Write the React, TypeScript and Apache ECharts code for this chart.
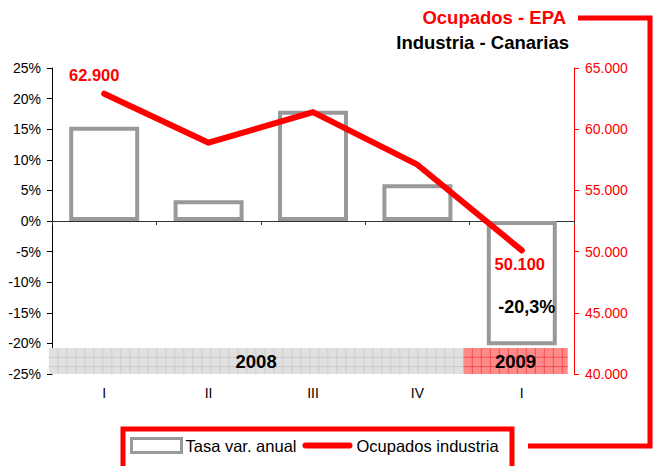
import React, { useEffect, useRef } from "react";
import * as echarts from "echarts";

const categories = ["I", "II", "III", "IV", "I"];
const tasaVarAnual = [15.4, 3.4, 18.0, 6.0, -20.3];
const ocupadosIndustria = [62900, 58900, 61400, 57100, 50100];
const yearBands = [
  { year: "2008", from: 0, to: 3 },
  { year: "2009", from: 4, to: 4 },
];
const bandBottom = -25;
const bandTop = -20.75;

const fmtThousands = (v: number) =>
  String(Math.round(v)).replace(/\B(?=(\d{3})+(?!\d))/g, ".");

const FONT = "Liberation Sans, Arial, sans-serif";

const LINE_ICON =
  "path://M0,0L0.01,0L0,0.01Z M50,14L49.99,14L50,13.99Z M3,4L47,4A3,3,0,0,1,47,10L3,10A3,3,0,0,1,3,4Z";

export default function App() {
  const ref = useRef<HTMLDivElement>(null);
  useEffect(() => {
    if (!ref.current) return;
    const chart = echarts.init(ref.current, null, { renderer: "svg" });
    const bandStyles = [
      { fill: "#e0e0e0", line: "#c6c6c6" },
      { fill: "#ff8a8a", line: "#f04040" },
    ];
    const lineLabel = {
      show: true,
      fontSize: 16.5,
      fontWeight: "bold",
      color: "#ff0000",
      fontFamily: FONT,
    };
    chart.setOption({
      animation: false,
      textStyle: { fontFamily: FONT },
      grid: { left: 52, right: 80, top: 68, bottom: 92, containLabel: false },
      legend: {
        left: 130,
        top: 437,
        padding: 0,
        itemWidth: 50,
        itemHeight: 14,
        itemGap: 6,
        textStyle: { fontSize: 16.5, color: "#000", fontFamily: FONT, padding: [0, 0, 0, -1] },
        data: [
          {
            name: "Tasa var. anual",
            icon: "rect",
            itemStyle: { color: "#fff", borderColor: "#999", borderWidth: 3 },
          },
          {
            name: "Ocupados industria",
            icon: LINE_ICON,
            itemStyle: { color: "#ff0000" },
          },
        ],
      },
      xAxis: [
        {
          type: "category",
          data: categories,
          position: "bottom",
          axisLine: { show: false, onZero: false },
          axisTick: { show: false },
          axisLabel: { margin: 12, fontSize: 14, color: "#000", fontFamily: FONT },
        },
        {
          type: "category",
          data: categories,
          position: "bottom",
          axisLine: {
            show: true,
            onZero: true,
            onZeroAxisIndex: 0,
            lineStyle: { color: "#333", width: 1 },
          },
          axisTick: { show: true, length: 4, lineStyle: { color: "#333" } },
          axisLabel: { show: false },
        },
      ],
      yAxis: [
        {
          type: "value",
          min: -25,
          max: 25,
          interval: 5,
          position: "left",
          axisLine: { show: true, lineStyle: { color: "#000" } },
          axisTick: { show: true, length: 5, lineStyle: { color: "#000" } },
          splitLine: { show: false },
          axisLabel: {
            margin: 11,
            fontSize: 14,
            color: "#000",
            fontFamily: FONT,
            formatter: (v: number) => `${v}%`,
          },
        },
        {
          type: "value",
          min: 40000,
          max: 65000,
          interval: 5000,
          position: "right",
          axisLine: { show: true, lineStyle: { color: "#ff0000" } },
          axisTick: { show: true, length: 5, lineStyle: { color: "#ff0000" } },
          splitLine: { show: false },
          axisLabel: {
            margin: 11,
            fontSize: 14,
            color: "#ff0000",
            fontFamily: FONT,
            formatter: (v: number) => fmtThousands(v),
          },
        },
      ],
      series: [
        {
          name: "Tasa var. anual",
          type: "bar",
          xAxisIndex: 0,
          yAxisIndex: 0,
          barWidth: 70,
          z: 2,
          itemStyle: { color: "#fff", borderColor: "#999", borderWidth: 4 },
          data: tasaVarAnual.map((v, i) =>
            i === tasaVarAnual.length - 1
              ? {
                  value: v,
                  label: {
                    show: true,
                    position: "inside",
                    offset: [5, 24],
                    fontSize: 18,
                    fontWeight: "bold",
                    color: "#000",
                    fontFamily: FONT,
                    formatter: () => `${String(v).replace(".", ",")}%`,
                  },
                }
              : v
          ),
        },
        {
          name: "band",
          type: "custom",
          xAxisIndex: 0,
          yAxisIndex: 0,
          z: 3,
          silent: true,
          data: yearBands.map((b) => [b.from, b.to]),
          encode: { x: [0, 1] },
          renderItem: (params: any, api: any) => {
            const from = api.value(0);
            const to = api.value(1);
            const bw = api.size([1, 0])[0];
            const x0 =
              params.dataIndex === 0
                ? api.coord([from, bandTop])[0] - bw * 0.53
                : api.coord([from - 1, bandTop])[0] + bw * 0.44;
            const x1 = api.coord([to, bandTop])[0] + bw * 0.44;
            const yT = api.coord([from, bandTop])[1];
            const yB = api.coord([from, bandBottom])[1];
            const st = bandStyles[params.dataIndex];
            const children: any[] = [
              {
                type: "rect",
                shape: { x: x0, y: yT, width: x1 - x0, height: yB - yT },
                style: { fill: st.fill },
              },
            ];
            for (let x = x0 + 9; x < x1 - 1; x += 9) {
              children.push({
                type: "line",
                shape: { x1: x, y1: yT, x2: x, y2: yB },
                style: { stroke: st.line, lineWidth: 0.8 },
              });
            }
            for (let y = yT + 9.3; y < yB - 1; y += 9.3) {
              children.push({
                type: "line",
                shape: { x1: x0, y1: y, x2: x1, y2: y },
                style: { stroke: st.line, lineWidth: 0.8 },
              });
            }
            children.push({
              type: "text",
              style: {
                text: yearBands[params.dataIndex].year,
                x: (x0 + x1) / 2,
                y: (yT + yB) / 2 + 1,
                align: "center",
                verticalAlign: "middle",
                fontSize: 18.5,
                fontWeight: "bold",
                fill: "#000",
                fontFamily: FONT,
              },
            });
            return { type: "group", children };
          },
        },
        {
          name: "Ocupados industria",
          type: "line",
          xAxisIndex: 0,
          yAxisIndex: 1,
          z: 5,
          symbol: "circle",
          symbolSize: 1,
          showSymbol: true,
          lineStyle: { color: "#ff0000", width: 6, cap: "round", join: "round" },
          itemStyle: { color: "#ff0000" },
          data: ocupadosIndustria.map((v, i) => {
            if (i === 0)
              return {
                value: v,
                label: {
                  ...lineLabel,
                  position: "top",
                  offset: [-10, -5],
                  formatter: () => fmtThousands(v),
                },
              };
            if (i === ocupadosIndustria.length - 1)
              return {
                value: v,
                label: {
                  ...lineLabel,
                  position: "bottom",
                  offset: [-2, 0],
                  formatter: () => fmtThousands(v),
                },
              };
            return v;
          }),
        },
      ],
      graphic: [
        {
          type: "text",
          x: 566,
          y: 17,
          style: {
            text: "Ocupados - EPA",
            align: "right",
            verticalAlign: "middle",
            fontSize: 18.5,
            fontWeight: "bold",
            fill: "#ff0000",
            fontFamily: FONT,
          },
        },
        {
          type: "text",
          x: 569,
          y: 42,
          style: {
            text: "Industria - Canarias",
            align: "right",
            verticalAlign: "middle",
            fontSize: 18.5,
            fontWeight: "bold",
            fill: "#000",
            fontFamily: FONT,
          },
        },
        {
          type: "polyline",
          shape: { points: [[578, 18], [650, 18], [650, 446], [528, 446]] },
          style: { stroke: "#ff0000", lineWidth: 5, fill: "none" },
        },
        {
          type: "rect",
          shape: { x: 123, y: 429, width: 389, height: 50 },
          style: { stroke: "#ff0000", lineWidth: 5, fill: "none" },
        },
      ],
    });
    return () => chart.dispose();
  }, []);
  return (
    <div
      ref={ref}
      style={{ width: 654, height: 466, position: "absolute", left: 0, top: 0 }}
    />
  );
}
